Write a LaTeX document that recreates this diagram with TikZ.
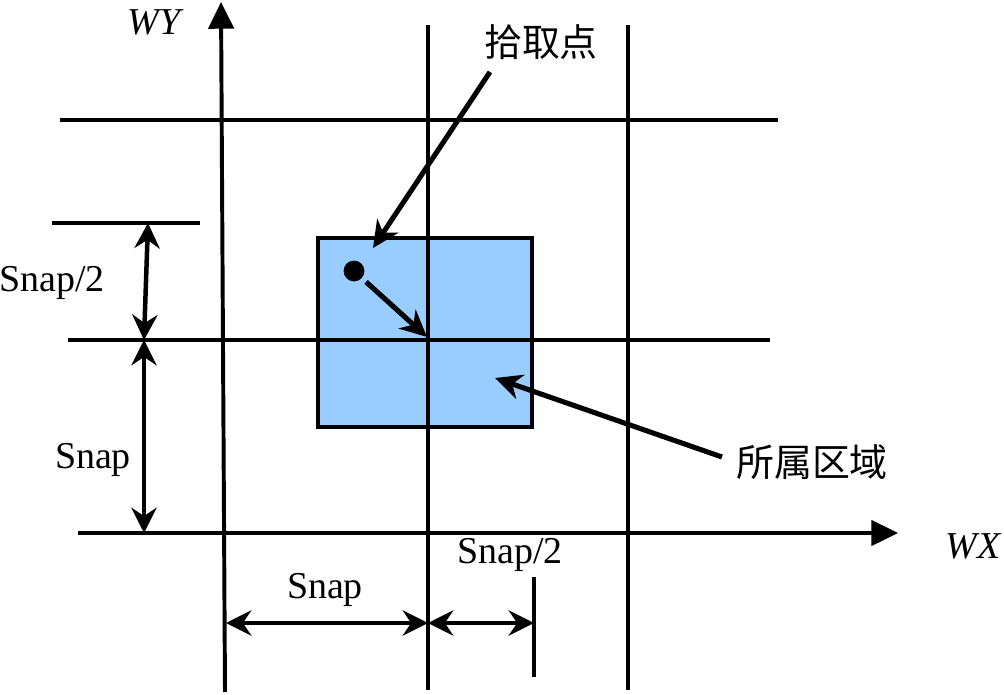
\documentclass[tikz,border=0pt]{standalone}
\usepackage{fontspec}
\setmainfont{Liberation Serif}
\newfontfamily\cjk{Noto Sans CJK SC}
\usetikzlibrary{arrows.meta}
\definecolor{regionblue}{RGB}{153,204,255}

\begin{document}
\begin{tikzpicture}[x=0.025cm, y=-0.025cm,
    gridline/.style={line width=2.5pt},
    axis/.style={line width=2.8pt, -{Triangle[length=19pt, width=18pt]}},
    dimarrow/.style={line width=3.2pt, {Stealth[length=18pt, width=18pt, inset=6pt]}-{Stealth[length=18pt, width=18pt, inset=6pt]}},
    pointer/.style={line width=3.6pt, -{Stealth[length=19pt, width=18pt, inset=6pt]}},
    lbl/.style={font=\fontsize{27}{32}\selectfont, inner sep=0pt},
    cjklbl/.style={font=\cjk\fontsize{27}{32}\selectfont, inner sep=0pt}]
        \useasboundingbox (0,0) rectangle (1004,695);

        % Region containing the pick point
        \filldraw[fill=regionblue, draw=black, line width=2.2pt] (318,238) rectangle (532,427);

        % Grid lines
        \draw[gridline] (60,120) -- (778,120);
        \draw[gridline] (68,340) -- (770,340);
        \draw[gridline] (52,223) -- (200,223);
        \draw[gridline] (428,25) -- (428,690);
        \draw[gridline] (628,25) -- (628,690);
        \draw[gridline] (534,577) -- (534,677);

        % Axes
        \coordinate (ybot) at (225,692);
        \coordinate (ytop) at (221,2);
        \coordinate (xleft) at (78,533);
        \coordinate (xright) at (898,533);
        \draw[axis] (ybot) -- (ytop);
        \draw[axis] (xleft) -- (xright);
        \node[lbl, font=\fontsize{27}{32}\selectfont\itshape] (wy) at (154,22) {WY};
        \node[lbl, font=\fontsize{27}{32}\selectfont\itshape] (wx) at (973,546) {WX};

        % Snap dimensions, vertical
        \coordinate (vtop) at (148,223);
        \coordinate (vmid) at (144,340);
        \coordinate (vbot) at (144,533);
        \draw[dimarrow] (vtop) -- (vmid);
        \draw[dimarrow] (vmid) -- (vbot);
        \node[lbl] (halfv) at (52,283) {Snap/2};
        \node[lbl] (fullv) at (93,460) {Snap};

        % Snap dimensions, horizontal
        \coordinate (hleft) at (226,623);
        \coordinate (hmid) at (428,623);
        \coordinate (hright) at (534,623);
        \draw[dimarrow] (hleft) -- (hmid);
        \draw[dimarrow] (hmid) -- (hright);
        \node[lbl] (fullh) at (325,590) {Snap};
        \node[lbl] (halfh) at (510,555) {Snap/2};

        % Pick point and snapped grid point
        \node[circle, fill, inner sep=0pt, minimum size=0.52cm] (pick) at (354,271) {};
        \coordinate (snapped) at (427,337);
        \draw[pointer, shorten <=4pt] (pick) -- (snapped);

        % Labels with pointers
        \node[cjklbl] (picklbl) at (541,42) {拾取点};
        \coordinate (picktail) at (490,72);
        \coordinate (pickhead) at (373,248);
        \draw[pointer] (picktail) -- (pickhead);

        \node[cjklbl] (arealbl) at (812,462) {所属区域};
        \coordinate (areatail) at (722,457);
        \coordinate (areahead) at (495,378);
        \draw[pointer] (areatail) -- (areahead);
\end{tikzpicture}
\end{document}
